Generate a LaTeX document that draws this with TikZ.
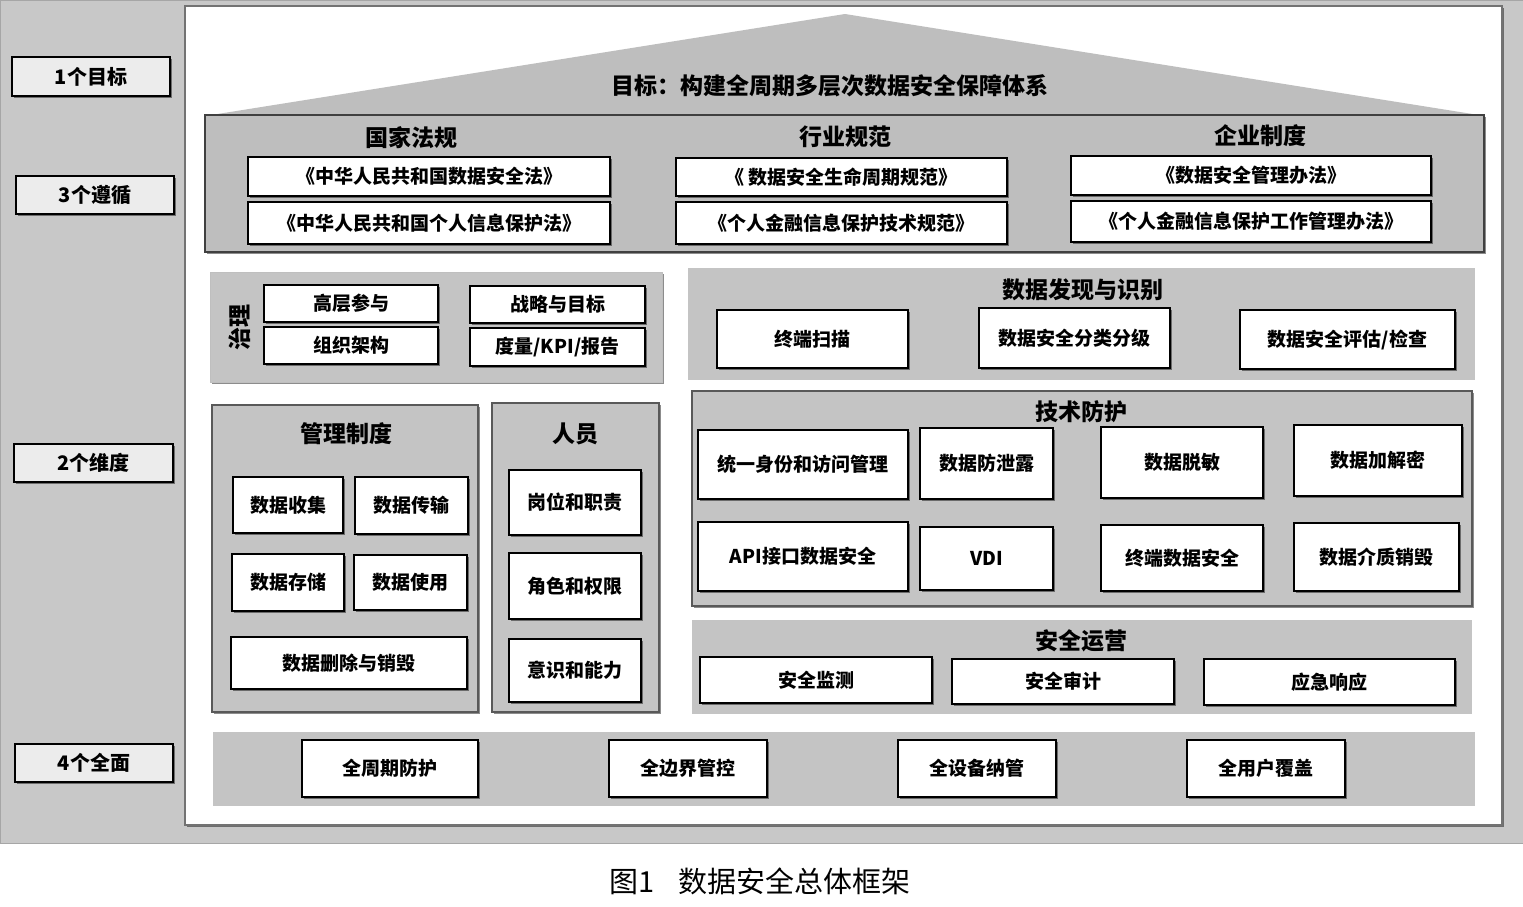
\documentclass[tikz,border=0pt]{standalone}
\usepackage{fontspec}
\newfontfamily\cjk{Noto Sans CJK SC}
\usetikzlibrary{shadows}
\definecolor{bggray}{HTML}{C8C8C8}
\definecolor{pangray}{HTML}{C4C4C4}
\definecolor{roofgray}{HTML}{BEBEBE}
\definecolor{lblfill}{HTML}{ECECEC}
\tikzset{
  sh/.style={drop shadow={shadow xshift=1.5pt,shadow yshift=-2pt,fill=black,opacity=0.45}},
  wbox/.style={draw=black,line width=1.8pt,fill=white,sh,inner sep=0pt,outer sep=0pt,
    font=\cjk\bfseries\fontsize{19}{22}\selectfont,align=center},
  lbl/.style={wbox,fill=lblfill,line width=2.2pt,font=\cjk\bfseries\fontsize{20}{22}\selectfont},
  panel/.style={fill=pangray,draw=none,inner sep=0pt,outer sep=0pt},
  bpanel/.style={panel,draw=black!65,line width=1.6pt,sh},
  hdr/.style={font=\cjk\bfseries\fontsize{23}{26}\selectfont,inner sep=0pt},
}
\newcommand\bx[7][]{\node[#1,minimum width={(#5-#3)*1pt},minimum height={(#6-#4)*1pt}] (#2) at ({(#3+#5)/2},{(#4+#6)/2}) {#7};}
\begin{document}
\begin{tikzpicture}[x=1pt,y=-1pt]
\useasboundingbox (0,0) rectangle (1523,906);
\fill[white] (0,0) rectangle (1523,906);
% outer gray background
\bx[panel,fill=bggray,draw=black!35,line width=1pt]{outer}{0}{0}{1523}{843}{}
% white main panel
\bx[panel,fill=white,draw=black!55,line width=1.5pt,sh]{main}{185}{6}{1502}{825}{}
% left labels
\bx[lbl]{l1}{12}{57}{170}{96}{1个目标}
\bx[lbl]{l3}{16}{176}{174}{214}{3个遵循}
\bx[lbl]{l2}{14}{444}{173}{482}{2个维度}
\bx[lbl]{l4}{15}{744}{173}{782}{4个全面}
% roof
\fill[roofgray] (205,116) -- (845,14) -- (1485,116) -- cycle;
\node[hdr] (goal) at (830,86) {目标：构建全周期多层次数据安全保障体系};
% 3 follow panel
\bx[bpanel,fill=roofgray,draw=black!75,line width=2pt]{follow}{205}{115}{1484}{252}{}
\node[hdr] (h1) at (411,138) {国家法规};
\node[hdr] (h2) at (845,137) {行业规范};
\node[hdr] (h3) at (1260,136) {企业制度};
\bx[wbox]{f11}{248}{157}{610}{196}{《中华人民共和国数据安全法》}
\bx[wbox]{f12}{248}{202}{610}{244}{《中华人民共和国个人信息保护法》}
\bx[wbox]{f21}{676}{158}{1007}{196}{《 数据安全生命周期规范》}
\bx[wbox]{f22}{676}{202}{1007}{244}{《个人金融信息保护技术规范》}
\bx[wbox]{f31}{1071}{156}{1431}{195}{《数据安全管理办法》}
\bx[wbox]{f32}{1071}{201}{1431}{242}{《个人金融信息保护工作管理办法》}
% governance
\bx[panel,draw=black!25,line width=1pt,sh]{gov}{210}{272}{662}{382}{}
\node[hdr,rotate=90] (govl) at (240,327) {治理};
\bx[wbox]{g1}{264}{285}{438}{322}{高层参与}
\bx[wbox]{g2}{264}{327}{438}{364}{组织架构}
\bx[wbox]{g3}{470}{286}{645}{323}{战略与目标}
\bx[wbox]{g4}{470}{328}{645}{366}{度量/KPI/报告}
% management
\bx[bpanel]{mgmt}{212}{405}{478}{712}{}
\node[hdr] (hm) at (346,434) {管理制度};
\bx[wbox]{m1}{233}{477}{343}{533}{数据收集}
\bx[wbox]{m2}{355}{477}{468}{534}{数据传输}
\bx[wbox]{m3}{232}{554}{344}{611}{数据存储}
\bx[wbox]{m4}{354}{555}{467}{610}{数据使用}
\bx[wbox]{m5}{231}{637}{467}{689}{数据删除与销毁}
% people
\bx[bpanel]{ppl}{492}{403}{659}{712}{}
\node[hdr] (hp) at (575,434) {人员};
\bx[wbox]{p1}{509}{470}{641}{535}{岗位和职责}
\bx[wbox]{p2}{509}{553}{641}{619}{角色和权限}
\bx[wbox]{p3}{509}{639}{641}{702}{意识和能力}
% discovery
\bx[panel]{disc}{688}{268}{1475}{380}{}
\node[hdr] (hd) at (1083,290) {数据发现与识别};
\bx[wbox]{d1}{717}{310}{908}{368}{终端扫描}
\bx[wbox]{d2}{979}{308}{1170}{368}{数据安全分类分级}
\bx[wbox]{d3}{1240}{310}{1455}{369}{数据安全评估/检查}
% tech protection
\bx[bpanel]{tech}{692}{391}{1472}{606}{}
\node[hdr] (ht) at (1081,412) {技术防护};
\bx[wbox]{t1}{698}{430}{908}{499}{统一身份和访问管理}
\bx[wbox]{t2}{920}{428}{1053}{499}{数据防泄露}
\bx[wbox]{t3}{1101}{427}{1263}{498}{数据脱敏}
\bx[wbox]{t4}{1294}{425}{1462}{496}{数据加解密}
\bx[wbox]{t5}{698}{522}{908}{591}{API接口数据安全}
\bx[wbox]{t6}{920}{527}{1053}{590}{VDI}
\bx[wbox]{t7}{1101}{525}{1263}{591}{终端数据安全}
\bx[wbox]{t8}{1294}{523}{1459}{591}{数据介质销毁}
% security operations
\bx[panel]{ops}{692}{620}{1472}{714}{}
\node[hdr] (ho) at (1081,641) {安全运营};
\bx[wbox]{o1}{700}{657}{932}{703}{安全监测}
\bx[wbox]{o2}{952}{659}{1174}{704}{安全审计}
\bx[wbox]{o3}{1204}{659}{1455}{705}{应急响应}
% 4 comprehensive
\bx[panel]{full}{213}{732}{1475}{806}{}
\bx[wbox]{a1}{302}{740}{478}{797}{全周期防护}
\bx[wbox]{a2}{609}{740}{767}{797}{全边界管控}
\bx[wbox]{a3}{898}{740}{1056}{797}{全设备纳管}
\bx[wbox]{a4}{1187}{740}{1345}{797}{全用户覆盖}
% caption
\node[font=\cjk\fontsize{29}{32}\selectfont,inner sep=0pt] (cap) at (760,881) {图1\hspace{0.8em}数据安全总体框架};
\end{tikzpicture}
\end{document}
